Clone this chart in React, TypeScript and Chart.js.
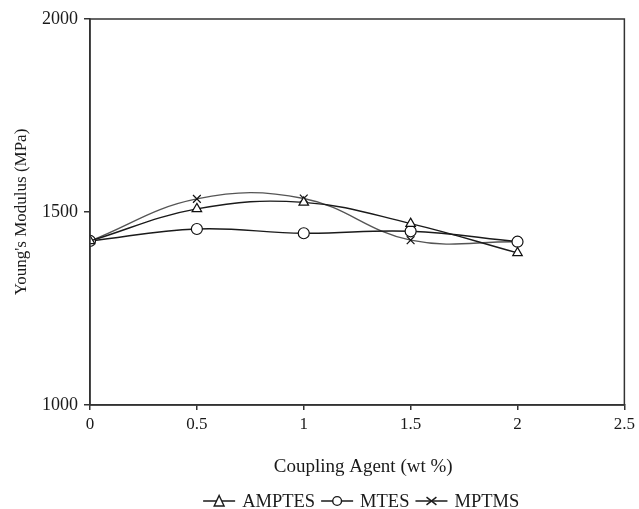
import React, { useEffect, useRef } from "react";
import { Chart, registerables } from "chart.js";

Chart.register(...registerables);

const xValues = [0, 0.5, 1, 1.5, 2];
const amptes = [1425, 1508, 1525, 1470, 1394];
const mtes = [1425, 1456, 1445, 1450, 1423];
const mptms = [1425, 1534, 1535, 1427, 1423];
const seriesNames = ["AMPTES", "MTES", "MPTMS"];
const xTitle = "Coupling Agent (wt %)";
const yTitle = "Young's Modulus (MPa)";

const FONT = "'Liberation Serif', 'Times New Roman', serif";

function drawMarker(ctx: CanvasRenderingContext2D, style: string, x: number, y: number, r: number) {
  ctx.beginPath();
  if (style === "triangle") {
    ctx.moveTo(x, y - r);
    ctx.lineTo(x + r * 0.9, y + r * 0.9);
    ctx.lineTo(x - r * 0.9, y + r * 0.9);
    ctx.closePath();
    ctx.fillStyle = "#fff";
    ctx.fill();
    ctx.stroke();
  } else if (style === "circle") {
    ctx.arc(x, y, r * 0.8, 0, Math.PI * 2);
    ctx.fillStyle = "#fff";
    ctx.fill();
    ctx.stroke();
  } else {
    ctx.moveTo(x - r * 0.9, y - r * 0.7);
    ctx.lineTo(x + r * 0.9, y + r * 0.7);
    ctx.moveTo(x + r * 0.9, y - r * 0.7);
    ctx.lineTo(x - r * 0.9, y + r * 0.7);
    ctx.stroke();
  }
}

export default function App() {
  const ref = useRef<HTMLCanvasElement>(null);
  useEffect(() => {
    if (!ref.current) return;
    const styles = ["triangle", "circle", "crossRot"];
    const colors = ["#1a1a1a", "#1a1a1a", "#555555"];
    const series = [amptes, mtes, mptms];

    const frame = {
      id: "frame",
      afterDraw(chart: any) {
        const { ctx, chartArea: a } = chart;
        ctx.save();
        ctx.strokeStyle = "#333";
        ctx.lineWidth = 1.5;
        ctx.strokeRect(a.left, a.top, a.right - a.left, a.bottom - a.top);
        // x axis title
        ctx.font = `19px ${FONT}`;
        ctx.fillStyle = "#1a1a1a";
        ctx.textAlign = "center";
        ctx.textBaseline = "middle";
        ctx.fillText(xTitle, (a.left + a.right) / 2 + 6, 467);
        ctx.restore();
      },
    };

    const legend = {
      id: "customLegend",
      afterDraw(chart: any) {
        const { ctx, chartArea: a } = chart;
        ctx.save();
        ctx.font = `18.5px ${FONT}`;
        ctx.textBaseline = "middle";
        const lineW = 32;
        const gap = 7;
        const spacing = 6;
        const widths = seriesNames.map((n) => lineW + gap + ctx.measureText(n).width);
        const total = widths.reduce((s, w) => s + w, 0) + spacing * (seriesNames.length - 1);
        let x = (a.left + a.right) / 2 + 4 - total / 2;
        const y = 501;
        seriesNames.forEach((n, i) => {
          ctx.strokeStyle = "#1a1a1a";
          ctx.lineWidth = 1.4;
          ctx.beginPath();
          ctx.moveTo(x, y);
          ctx.lineTo(x + lineW, y);
          ctx.stroke();
          drawMarker(ctx, styles[i], x + lineW / 2, y, 5.5);
          ctx.fillStyle = "#1a1a1a";
          ctx.fillText(n, x + lineW + gap, y + 1);
          x += widths[i] + spacing;
        });
        ctx.restore();
      },
    };

    const chart = new Chart(ref.current, {
      type: "line",
      data: {
        datasets: seriesNames.map((name, i) => ({
          label: name,
          data: xValues.map((x, j) => ({ x, y: series[i][j] })),
          borderColor: colors[i],
          borderWidth: 1.4,
          pointStyle: styles[i] as any,
          pointRadius: 5.5,
          pointBorderColor: "#111",
          pointBorderWidth: 1.2,
          pointBackgroundColor: i === 2 ? "#111" : "rgba(255,255,255,1)",
          tension: 0.4,
          fill: false,
        })),
      },
      options: {
        animation: false,
        responsive: false,
        maintainAspectRatio: false,
        layout: { padding: { left: 0, right: 12, top: 19, bottom: 0 } },
        plugins: { legend: { display: false }, tooltip: { enabled: false } },
        scales: {
          x: {
            type: "linear",
            min: 0,
            max: 2.5,
            ticks: {
              stepSize: 0.5,
              color: "#1a1a1a",
              font: { family: FONT, size: 17 },
              padding: 4,
              callback: (v: any) => String(Number(v)),
            },
            grid: { drawOnChartArea: false, drawTicks: true, tickLength: 5, color: "#333", lineWidth: 1.5 },
            border: { color: "#333", width: 1.5 },
            afterFit: (s: any) => { s.height = 104; },
          },
          y: {
            min: 1000,
            max: 2000,
            ticks: {
              stepSize: 500,
              color: "#1a1a1a",
              font: { family: FONT, size: 18 },
              padding: 6,
              callback: (v: any) => String(Number(v)),
            },
            grid: { drawOnChartArea: false, drawTicks: true, tickLength: 6, color: "#333", lineWidth: 1.5 },
            border: { color: "#333", width: 1.5 },
            title: { display: true, text: yTitle, color: "#1a1a1a", font: { family: FONT, size: 17 }, padding: { top: 11, bottom: 2 } },
            afterFit: (s: any) => { s.width = 90; },
          },
        },
      },
      plugins: [frame, legend],
    });
    return () => chart.destroy();
  }, []);
  return (
    <div style={{ position: "fixed", left: 0, top: 0, width: 639, height: 509, background: "#fff" }}>
      <canvas ref={ref} width={639} height={509} style={{ width: 639, height: 509 }} />
    </div>
  );
}
